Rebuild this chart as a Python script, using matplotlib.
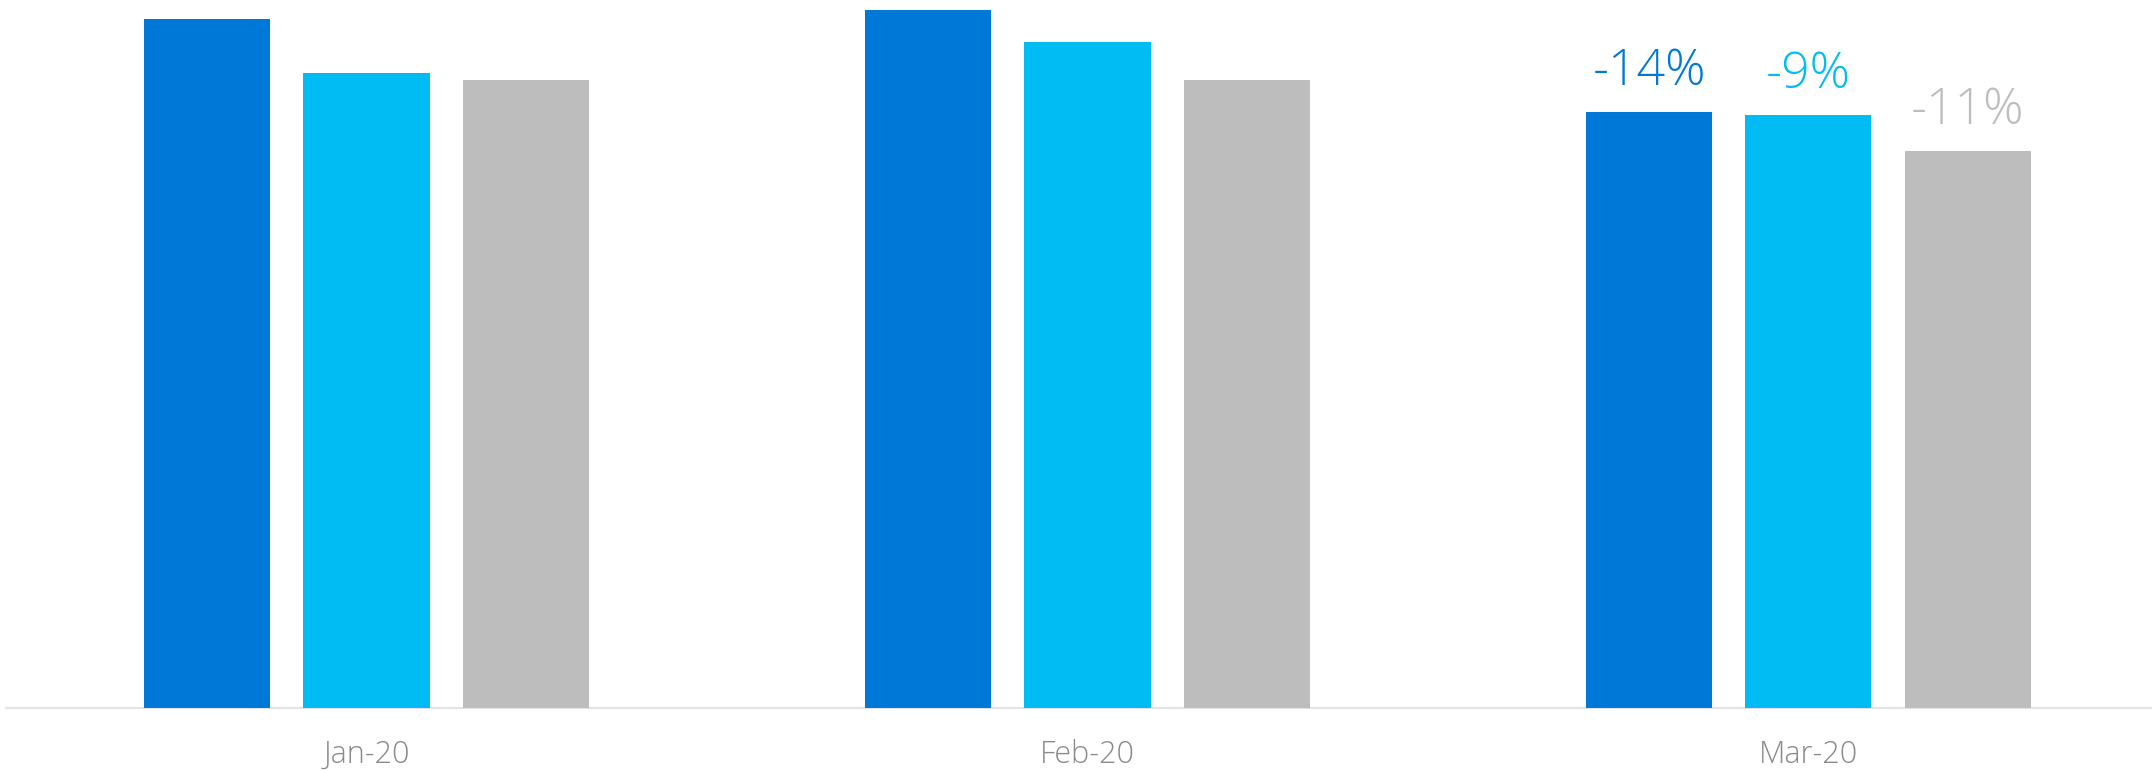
import matplotlib
matplotlib.use("Agg")
import matplotlib.pyplot as plt
import numpy as np

months = ["Jan-20", "Feb-20", "Mar-20"]
series_a = [68.9, 69.8, 59.6]   # dark blue
series_b = [63.5, 66.6, 59.3]   # light blue
series_c = [62.8, 62.8, 55.7]   # gray
mar_labels = ["-14%", "-9%", "-11%"]

colors = ["#0078D7", "#00BCF2", "#BDBDBD"]

fig = plt.figure(figsize=(21.52, 7.70), dpi=100)
ax = fig.add_axes([6/2152, 62/770, 1 - 6/2152, 708/770])

x = np.arange(len(months))
w = 0.175
off = 0.221
for i, (vals, c) in enumerate(zip([series_a, series_b, series_c], colors)):
    ax.bar(x + (i - 1) * off, vals, width=w, color=c, zorder=2)
    ax.annotate(mar_labels[i], xy=(x[-1] + (i - 1) * off, vals[-1]),
                xytext=(0, 11), textcoords="offset points",
                ha="center", va="bottom", color=c, fontsize=36,
                family="Open Sans", fontweight="light")

ax.set_xlim(-0.5, 2.4766)
ax.set_ylim(0, 70.8)
ax.set_xticks(x)
ax.set_xticklabels(months, fontsize=22, color="#8A8A8A", family="Open Sans", fontweight="light")
ax.tick_params(axis="x", length=0, pad=22)
ax.set_yticks([])
for s in ["top", "right", "left"]:
    ax.spines[s].set_visible(False)
ax.spines["bottom"].set_color("#E3E3E3")
ax.spines["bottom"].set_linewidth(1.5)
ax.spines["bottom"].set_zorder(1)

fig.savefig("out.png", dpi=100)
